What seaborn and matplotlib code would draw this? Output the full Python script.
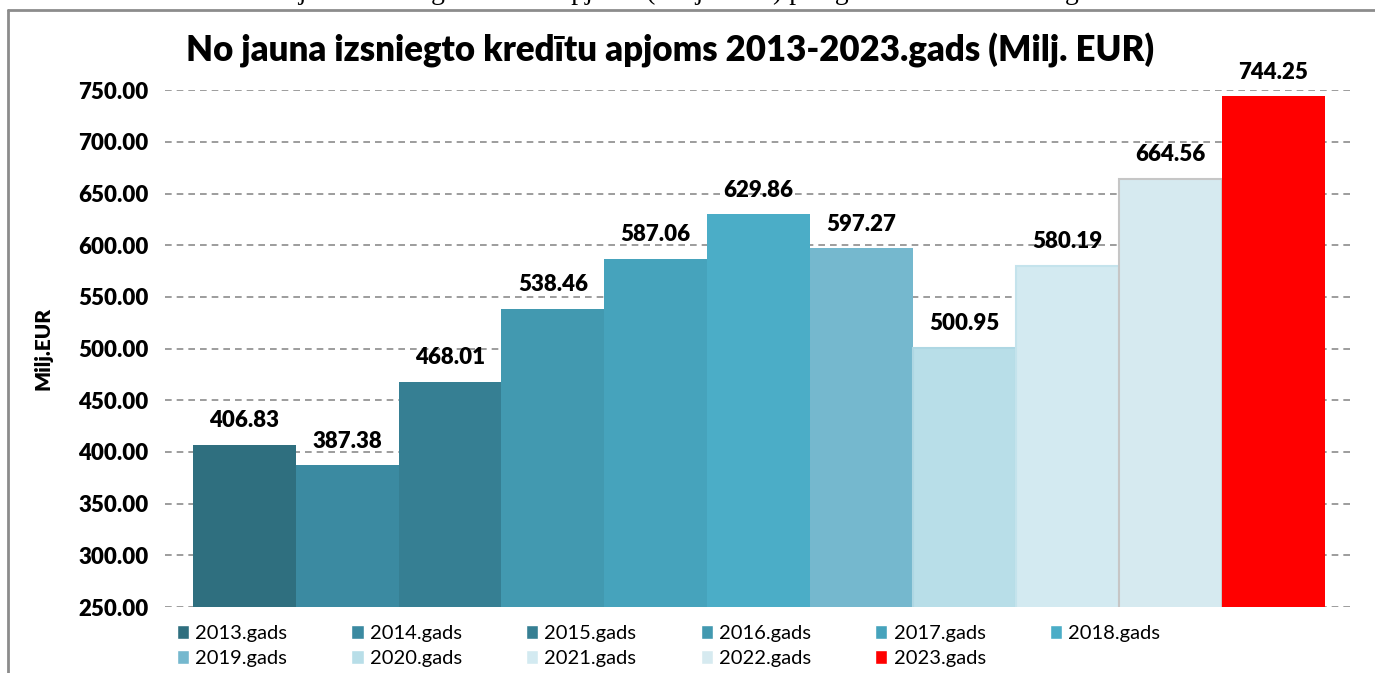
import matplotlib
matplotlib.use("Agg")
import matplotlib.pyplot as plt
import seaborn as sns
from matplotlib.lines import Line2D

# Data
years = ["2013.gads", "2014.gads", "2015.gads", "2016.gads", "2017.gads", "2018.gads",
         "2019.gads", "2020.gads", "2021.gads", "2022.gads", "2023.gads"]
values = [406.83, 387.38, 468.01, 538.46, 587.06, 629.86,
          597.27, 500.95, 580.19, 664.56, 744.25]
bar_colors = ["#2f6f7f", "#3b8aa1", "#367f93", "#4299b0", "#46a3bc", "#4badc7",
              "#75b8ce", "#b8dee8", "#d3eaf1", "#d6eaf0", "#ff0000"]
edge_colors = [None, None, None, None, None, None,
               None, "#aed7e3", "#c4e3ec", "#c6c6c6", None]
y_ticks = [250, 300, 350, 400, 450, 500, 550, 600, 650, 700, 750]

sns.set_style("white")
plt.rcParams["font.family"] = ["Lato", "DejaVu Sans"]
plt.rcParams["text.color"] = "black"

fig = plt.figure(figsize=(13.75, 6.73), dpi=100)
ax = fig.add_axes([0.12, 0.098, 0.862, 0.768])

sns.barplot(x=years, y=values, hue=years, palette=bar_colors, dodge=False,
            width=1.0, saturation=1, legend=True, ax=ax, zorder=2)

for patch, ec in zip(ax.patches, edge_colors):
    if ec is not None:
        patch.set_edgecolor(ec)
        patch.set_linewidth(1.5)
    else:
        patch.set_linewidth(0)

ax.set_ylim(250, 750)
ax.set_xlim(-0.77, 10.75)
ax.set_yticks(y_ticks)
ax.set_yticklabels([f"{t:.2f}" for t in y_ticks], fontsize=16, fontweight="heavy", color="black")
ax.set_xticks([])
ax.set_xlabel("")
ax.set_ylabel("Milj.EUR", fontsize=15, fontweight="heavy", labelpad=18, color="black")
ax.tick_params(axis="y", length=0, pad=12)
ax.yaxis.grid(True, linestyle=(0, (4, 3)), color="#8c8c8c", linewidth=1.2, zorder=0)
ax.set_axisbelow(True)
for side in ["top", "right", "left", "bottom"]:
    ax.spines[side].set_visible(False)

for i, v in enumerate(values):
    ax.text(i, v + 13, f"{v:.2f}", ha="center", va="bottom",
            fontsize=16, fontweight="heavy", color="black", clip_on=False)

fig.text(0.487, 0.925, "No jauna izsniegto kredītu apjoms 2013-2023.gads (Milj. EUR)",
         ha="center", va="center", fontsize=25, fontweight="heavy", color="black")

# legend filled row by row, like the reference
handles, labels = ax.get_legend_handles_labels()
order = [0, 6, 1, 7, 2, 8, 3, 9, 4, 10, 5]
ax.legend([handles[k] for k in order], [labels[k] for k in order], ncol=6,
          loc="upper left", bbox_to_anchor=(0.01, -0.035),
          frameon=False, fontsize=14.5, handlelength=0.6, handleheight=0.7,
          handletextpad=0.3, columnspacing=3.2, labelspacing=0.4,
          borderaxespad=0, borderpad=0)

# cropped caption line of the surrounding document
fig.text(0.5, 1.012, "No jauna izsniegto kredītu apjoms (Milj. EUR) pēc gadiem 2013.-2023. gadā",
         ha="center", va="center", fontsize=20, family="Liberation Serif")

# page frame
fig.add_artist(Line2D([0.006, 1.0], [0.985, 0.985], color="#8c8c8c", linewidth=2,
                      transform=fig.transFigure))
fig.add_artist(Line2D([0.006, 0.006], [0.0, 0.985], color="#8c8c8c", linewidth=2,
                      transform=fig.transFigure))

fig.savefig("out.png", dpi=100)
